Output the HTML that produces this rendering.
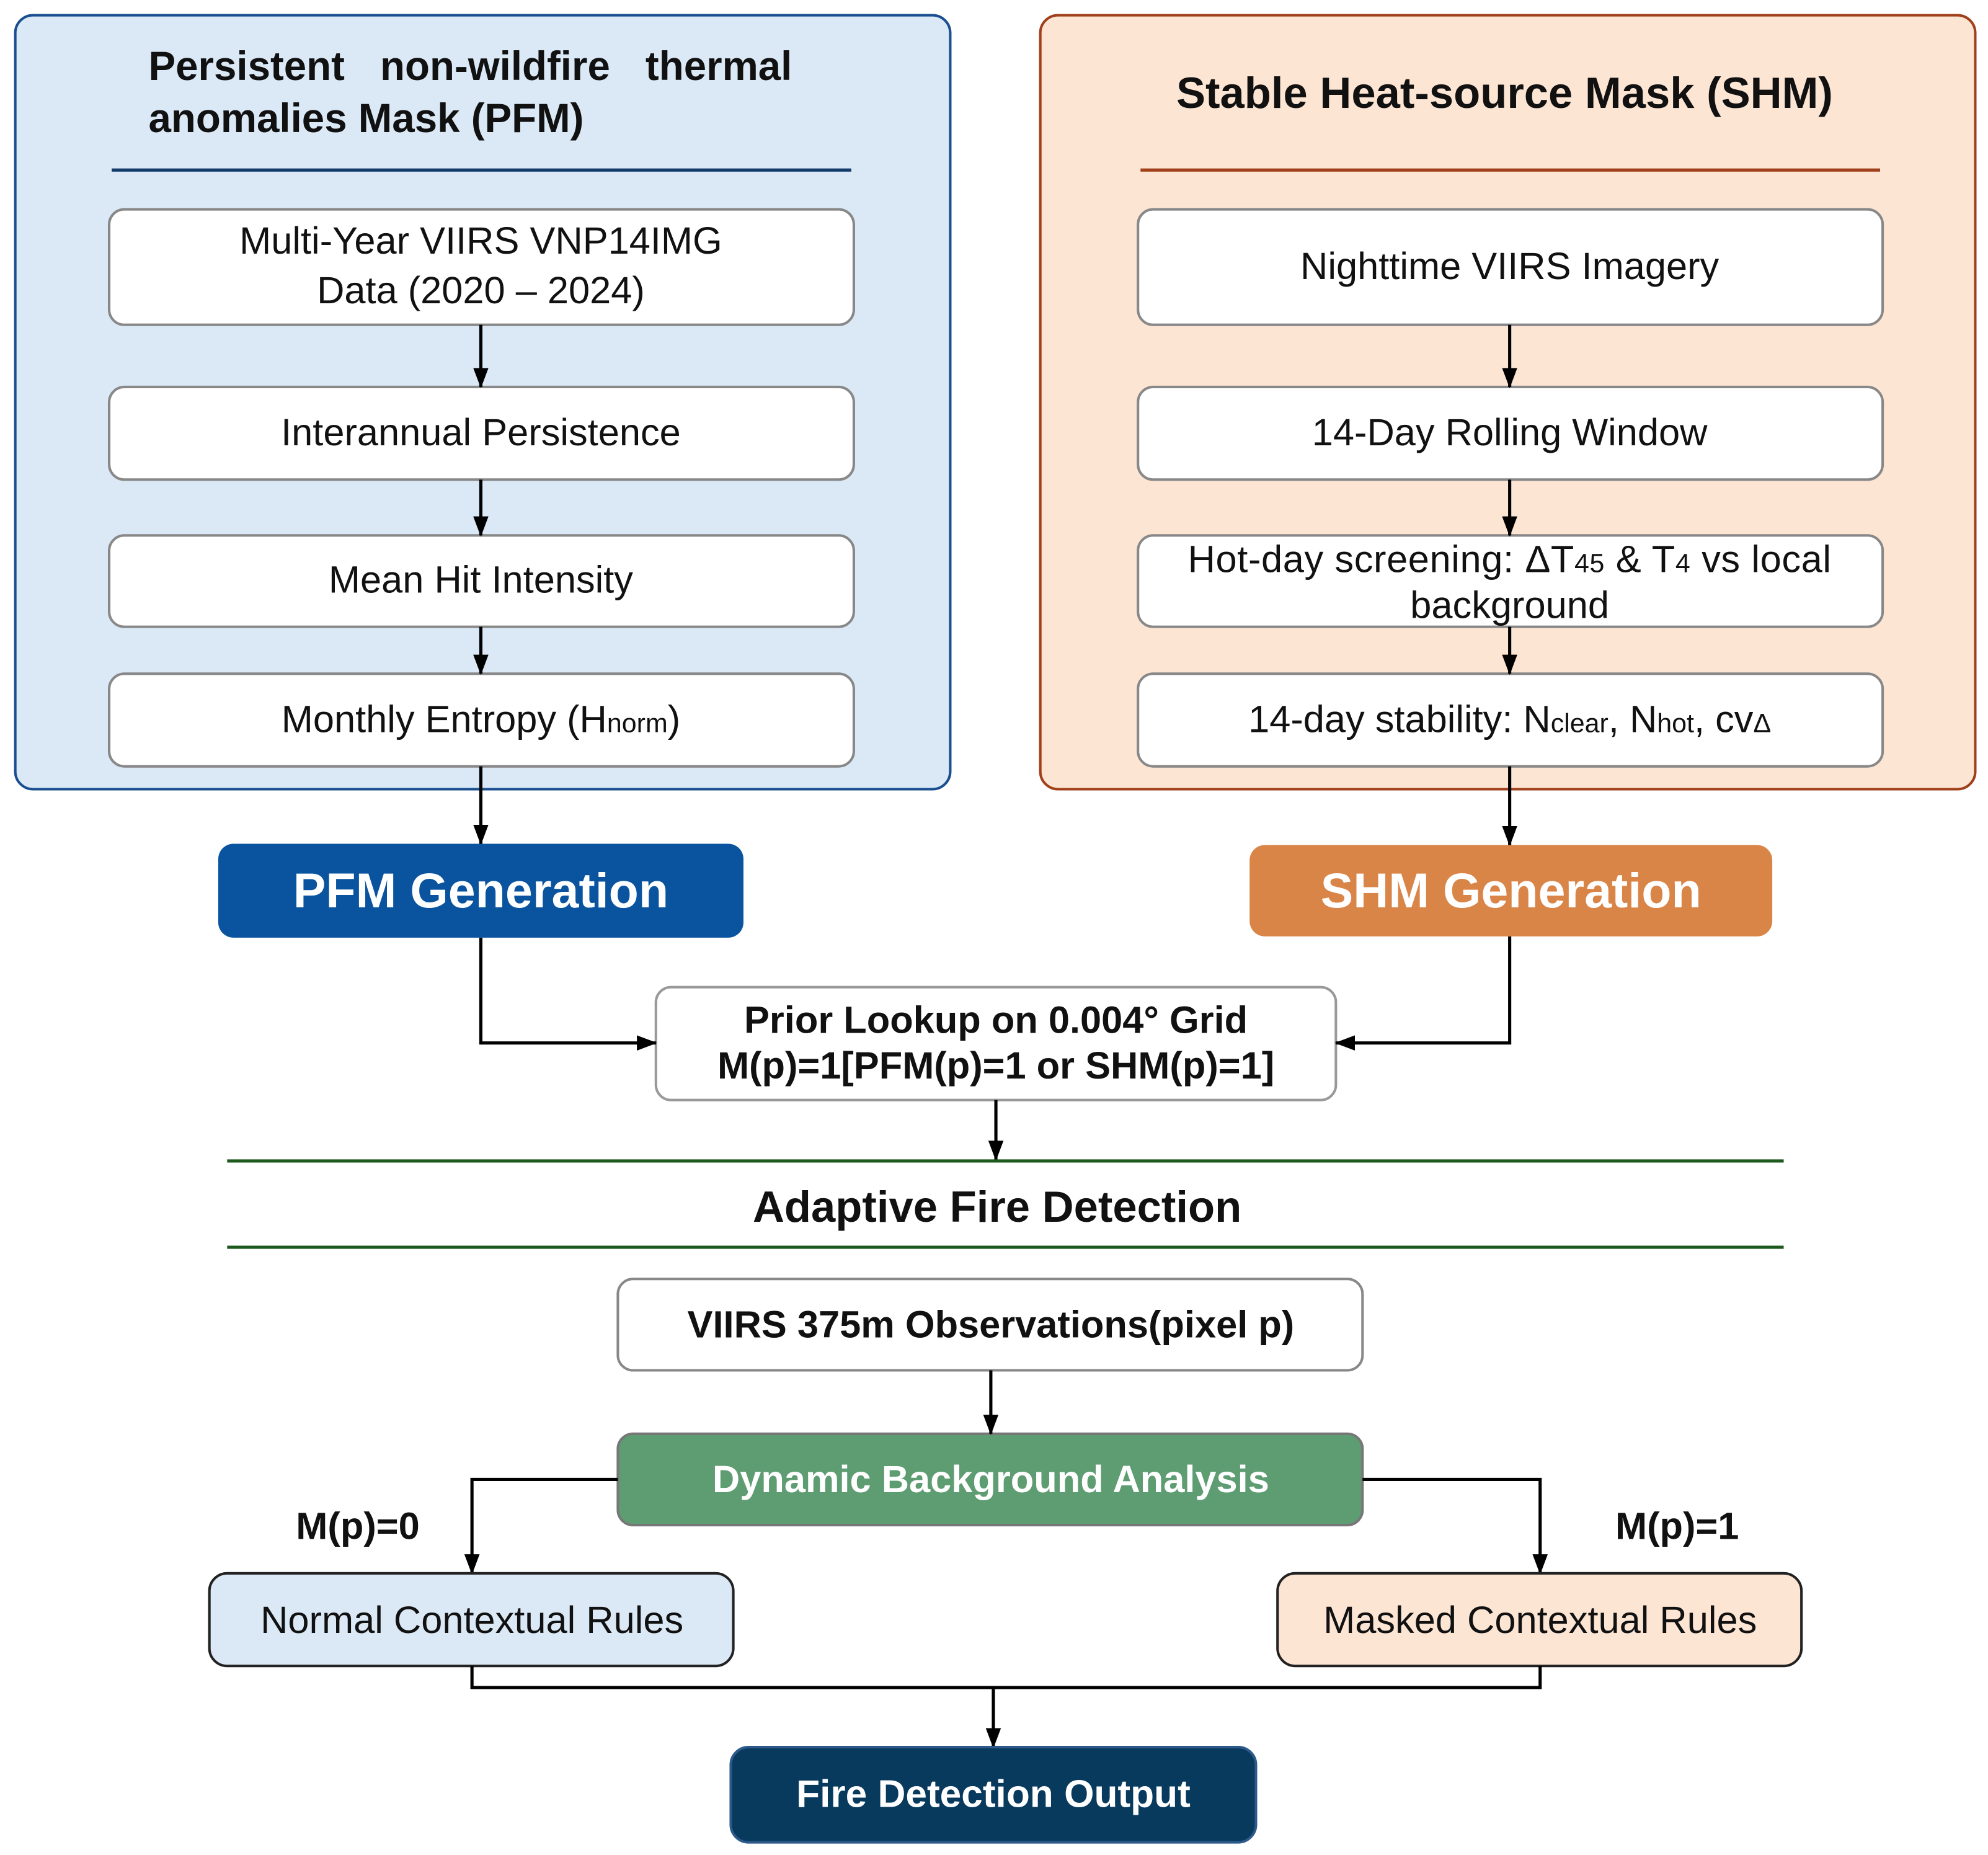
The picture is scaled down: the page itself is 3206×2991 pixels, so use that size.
<!DOCTYPE html>
<html><head><meta charset="utf-8"><style>
html,body{margin:0;padding:0;background:#fff;}
svg{display:block;}
text{font-family:"Liberation Sans",Arial,sans-serif;}
.t{font-size:30px;fill:#111;text-anchor:middle;}
.b{font-weight:bold;}
.s{font-size:21px;}
</style></head><body>
<svg width="3206" height="2991" viewBox="0 0 1567 1462" xmlns="http://www.w3.org/2000/svg">
<defs>
<marker id="ah" markerWidth="16" markerHeight="16" refX="15" refY="8" orient="auto" markerUnits="userSpaceOnUse" viewBox="0 0 16 16">
<path d="M0,2 L16,8 L0,14 z" fill="#000"/></marker>
</defs>
<!-- Left panel -->
<rect x="12" y="12" width="737" height="610" rx="14" fill="#dbe9f6" stroke="#1a4f8f" stroke-width="2"/>
<text x="117" y="63" class="b" style="font-size:32px;fill:#111;word-spacing:19px">Persistent non-wildfire thermal</text>
<text x="117" y="104" class="b" style="font-size:32px;fill:#111">anomalies Mask (PFM)</text>
<line x1="88" y1="134" x2="671" y2="134" stroke="#123a6a" stroke-width="2.5"/>
<g fill="#fff" stroke="#888" stroke-width="2">
<rect x="86" y="165" width="587" height="91" rx="12"/>
<rect x="86" y="305" width="587" height="73" rx="12"/>
<rect x="86" y="422" width="587" height="72" rx="12"/>
<rect x="86" y="531" width="587" height="73" rx="12"/>
</g>
<text x="379" y="200" class="t">Multi-Year VIIRS VNP14IMG</text>
<text x="379" y="239" class="t">Data (2020 – 2024)</text>
<text x="379" y="351" class="t">Interannual Persistence</text>
<text x="379" y="467" class="t">Mean Hit Intensity</text>
<text x="379" y="577" class="t">Monthly Entropy (H<tspan class="s">norm</tspan>)</text>
<g stroke="#000" stroke-width="2.5" marker-end="url(#ah)">
<line x1="379" y1="256" x2="379" y2="305"/>
<line x1="379" y1="378" x2="379" y2="422"/>
<line x1="379" y1="494" x2="379" y2="531"/>
<line x1="379" y1="604" x2="379" y2="665"/>
</g>
<!-- Right panel -->
<rect x="820" y="12" width="737" height="610" rx="14" fill="#fde5d4" stroke="#a0401a" stroke-width="2"/>
<text x="1186" y="85" class="t b" style="font-size:34.5px">Stable Heat-source Mask (SHM)</text>
<line x1="899" y1="134" x2="1482" y2="134" stroke="#a0401a" stroke-width="2.5"/>
<g fill="#fff" stroke="#888" stroke-width="2">
<rect x="897" y="165" width="587" height="91" rx="12"/>
<rect x="897" y="305" width="587" height="73" rx="12"/>
<rect x="897" y="422" width="587" height="72" rx="12"/>
<rect x="897" y="531" width="587" height="73" rx="12"/>
</g>
<text x="1190" y="220" class="t">Nighttime VIIRS Imagery</text>
<text x="1190" y="351" class="t">14-Day Rolling Window</text>
<text x="1190" y="451" class="t" style="letter-spacing:0.3px">Hot-day screening:  ΔT<tspan class="s">45</tspan> &amp; T<tspan class="s">4</tspan> vs local</text>
<text x="1190" y="487" class="t">background</text>
<text x="1190" y="577" class="t">14-day stability: N<tspan class="s">clear</tspan>, N<tspan class="s">hot</tspan>, cv<tspan class="s">Δ</tspan></text>
<g stroke="#000" stroke-width="2.5" marker-end="url(#ah)">
<line x1="1190" y1="256" x2="1190" y2="305"/>
<line x1="1190" y1="378" x2="1190" y2="422"/>
<line x1="1190" y1="494" x2="1190" y2="531"/>
<line x1="1190" y1="604" x2="1190" y2="666"/>
</g>
<!-- Generation boxes -->
<rect x="172" y="665" width="414" height="74" rx="12" fill="#0a539e"/>
<text x="379" y="715" class="t b" style="font-size:38.6px;fill:#fff">PFM Generation</text>
<rect x="985" y="666" width="412" height="72" rx="12" fill="#d98548"/>
<text x="1191" y="715" class="t b" style="font-size:38.6px;fill:#fff">SHM Generation</text>
<!-- Prior lookup -->
<rect x="517" y="778" width="536" height="89" rx="12" fill="#fff" stroke="#999" stroke-width="2"/>
<text x="785" y="814" class="t b">Prior Lookup on 0.004° Grid</text>
<text x="785" y="850" class="t b">M(p)=1[PFM(p)=1 or SHM(p)=1]</text>
<g fill="none" stroke="#000" stroke-width="2.5" marker-end="url(#ah)">
<polyline points="379,739 379,822 517,822"/>
<polyline points="1190,738 1190,822 1053,822"/>
<line x1="785" y1="867" x2="785" y2="914"/>
</g>
<line x1="179" y1="915" x2="1406" y2="915" stroke="#1e5a1e" stroke-width="2.5"/>
<line x1="179" y1="983" x2="1406" y2="983" stroke="#1e5a1e" stroke-width="2.5"/>
<text x="786" y="963" class="t b" style="font-size:34.5px">Adaptive Fire Detection</text>
<!-- Detection flow -->
<rect x="487" y="1008" width="587" height="72" rx="12" fill="#fff" stroke="#888" stroke-width="2"/>
<text x="781" y="1054" class="t b">VIIRS 375m Observations(pixel p)</text>
<rect x="487" y="1130" width="587" height="72" rx="12" fill="#5e9c72" stroke="#777" stroke-width="2"/>
<text x="781" y="1176" class="t b" style="fill:#fff">Dynamic Background Analysis</text>
<g fill="none" stroke="#000" stroke-width="2.5" marker-end="url(#ah)">
<line x1="781" y1="1080" x2="781" y2="1130"/>
<polyline points="487,1166 372,1166 372,1240"/>
<polyline points="1074,1166 1214,1166 1214,1240"/>
</g>
<text x="282" y="1213" class="t b">M(p)=0</text>
<text x="1322" y="1213" class="t b">M(p)=1</text>
<rect x="165" y="1240" width="413" height="73" rx="14" fill="#dbe9f6" stroke="#222" stroke-width="2"/>
<text x="372" y="1287" class="t">Normal Contextual Rules</text>
<rect x="1007" y="1240" width="413" height="73" rx="14" fill="#fde5d4" stroke="#222" stroke-width="2"/>
<text x="1214" y="1287" class="t">Masked Contextual Rules</text>
<polyline points="372,1313 372,1330 1214,1330 1214,1313" fill="none" stroke="#000" stroke-width="2.5"/>
<line x1="783" y1="1330" x2="783" y2="1377" stroke="#000" stroke-width="2.5" marker-end="url(#ah)"/>
<rect x="576" y="1377" width="414" height="75" rx="14" fill="#083a5e" stroke="#2d5a8a" stroke-width="2"/>
<text x="783" y="1424" class="t b" style="font-size:30.4px;fill:#fff">Fire Detection Output</text>
</svg>
</body></html>
